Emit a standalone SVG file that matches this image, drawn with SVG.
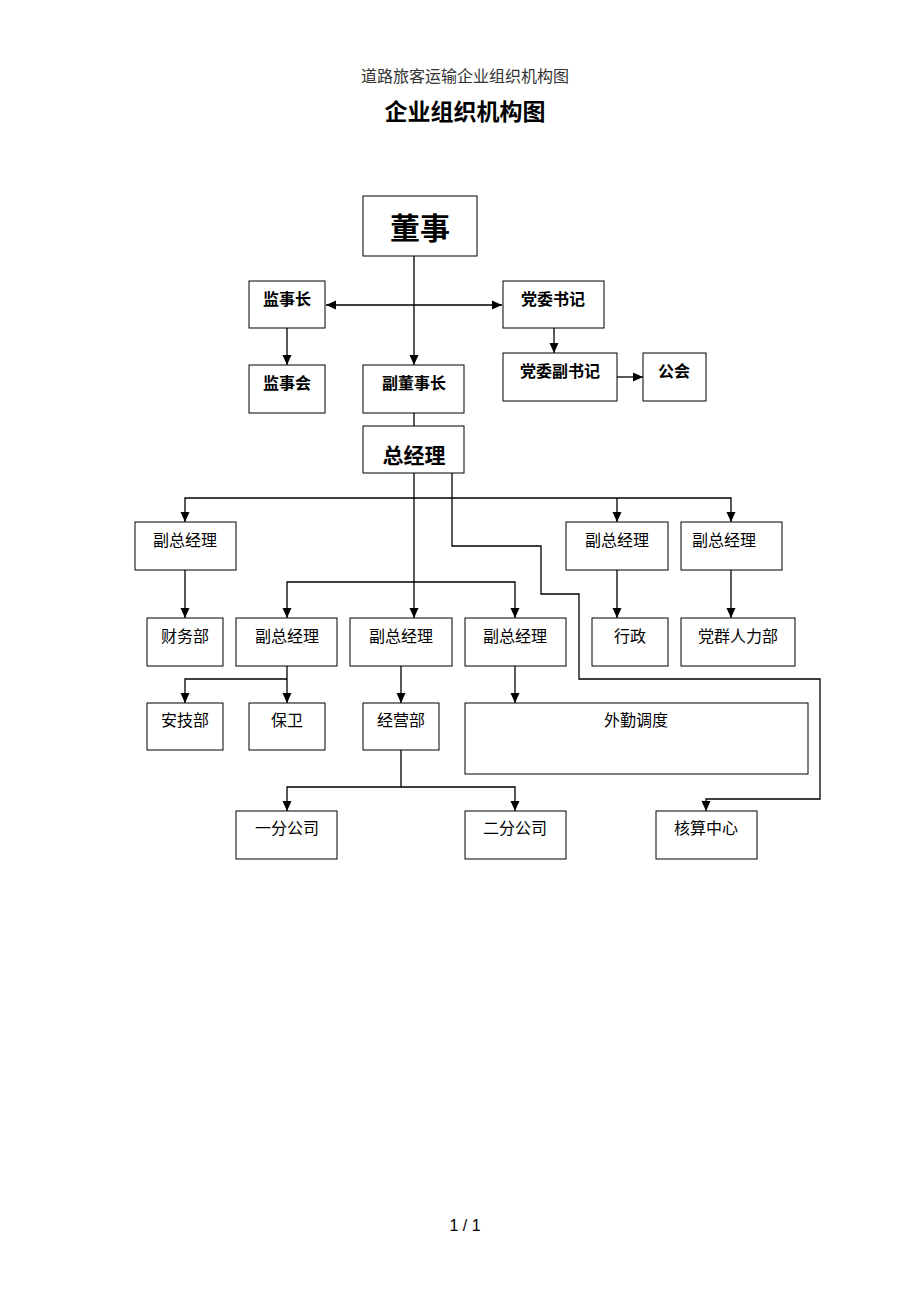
<svg xmlns="http://www.w3.org/2000/svg" width="920" height="1302" viewBox="0 0 920 1302">
<style>
text{font-family:"Noto Sans CJK SC","Liberation Sans",sans-serif;fill:#000;text-anchor:middle}
.box{fill:#fff;stroke:#000;stroke-width:1}
.t{font-size:16px}
.b{font-size:16px;font-weight:bold}
.ln{fill:none;stroke:#000;stroke-width:1.3}
</style>
<defs>
<marker id="ah" markerUnits="userSpaceOnUse" markerWidth="10" markerHeight="10" viewBox="0 0 10 10" refX="10" refY="5" orient="auto-start-reverse">
<path d="M0,0.5 L10,5 L0,9.5 Z" fill="#000"/>
</marker>
</defs>
<rect width="920" height="1302" fill="#fff"/>
<text x="465" y="82" style="font-size:16px;fill:#333">道路旅客运输企业组织机构图</text>
<text x="465" y="120" style="font-size:23px;font-weight:bold">企业组织机构图</text>

<g id="connectors">
<path class="ln" d="M414,256 V365" marker-end="url(#ah)"/>
<path class="ln" d="M326,305 H502" marker-start="url(#ah)" marker-end="url(#ah)"/>
<path class="ln" d="M287,328 V365" marker-end="url(#ah)"/>
<path class="ln" d="M554,328 V353" marker-end="url(#ah)"/>
<path class="ln" d="M617,377 H643" marker-end="url(#ah)"/>
<path class="ln" d="M414,413 V426"/>
<path class="ln" d="M414,473 V618" marker-end="url(#ah)"/>
<path class="ln" d="M185,522 V498 H731 V522" marker-start="url(#ah)" marker-end="url(#ah)"/>
<path class="ln" d="M617,498 V522" marker-end="url(#ah)"/>
<path class="ln" d="M287,618 V582 H515 V618" marker-start="url(#ah)" marker-end="url(#ah)"/>
<path class="ln" d="M452,473 V546 H541 V594 H579 V679 H820 V799 H706 V811" marker-end="url(#ah)"/>
<path class="ln" d="M185,570 V618" marker-end="url(#ah)"/>
<path class="ln" d="M617,570 V618" marker-end="url(#ah)"/>
<path class="ln" d="M731,570 V618" marker-end="url(#ah)"/>
<path class="ln" d="M287,666 V703" marker-end="url(#ah)"/>
<path class="ln" d="M287,679 H185 V703" marker-end="url(#ah)"/>
<path class="ln" d="M401,666 V703" marker-end="url(#ah)"/>
<path class="ln" d="M515,666 V703" marker-end="url(#ah)"/>
<path class="ln" d="M401,750 V787"/>
<path class="ln" d="M287,811 V787 H515 V811" marker-start="url(#ah)" marker-end="url(#ah)"/>
</g>

<g id="n-dongshi"><rect class="box" x="363" y="196" width="114" height="60"/><text x="420" y="239" style="font-size:30px;font-weight:bold">董事</text></g>
<g id="n-jianshizhang"><rect class="box" x="249" y="281" width="76" height="47"/><text class="b" x="287" y="305">监事长</text></g>
<g id="n-dangweishuji"><rect class="box" x="503" y="281" width="101" height="47"/><text class="b" x="553" y="305">党委书记</text></g>
<g id="n-jianshihui"><rect class="box" x="249" y="365" width="76" height="48"/><text class="b" x="287" y="389">监事会</text></g>
<g id="n-fudongshizhang"><rect class="box" x="363" y="365" width="101" height="48"/><text class="b" x="414" y="389">副董事长</text></g>
<g id="n-dangweifushuji"><rect class="box" x="503" y="353" width="114" height="48"/><text class="b" x="560" y="377">党委副书记</text></g>
<g id="n-gonghui"><rect class="box" x="643" y="353" width="63" height="48"/><text class="b" x="674" y="377">公会</text></g>
<g id="n-zongjingli"><rect class="box" x="363" y="426" width="101" height="47"/><text x="414" y="463" style="font-size:21px;font-weight:bold">总经理</text></g>
<g id="n-fzjl-left"><rect class="box" x="135" y="522" width="101" height="48"/><text class="t" x="185" y="546">副总经理</text></g>
<g id="n-fzjl-r1"><rect class="box" x="566" y="522" width="102" height="48"/><text class="t" x="617" y="546">副总经理</text></g>
<g id="n-fzjl-r2"><rect class="box" x="681" y="522" width="101" height="48"/><text class="t" x="724" y="546">副总经理</text></g>
<g id="n-caiwubu"><rect class="box" x="147" y="618" width="76" height="48"/><text class="t" x="185" y="642">财务部</text></g>
<g id="n-fzjl-a"><rect class="box" x="236" y="618" width="101" height="48"/><text class="t" x="287" y="642">副总经理</text></g>
<g id="n-fzjl-b"><rect class="box" x="350" y="618" width="102" height="48"/><text class="t" x="401" y="642">副总经理</text></g>
<g id="n-fzjl-c"><rect class="box" x="465" y="618" width="101" height="48"/><text class="t" x="515" y="642">副总经理</text></g>
<g id="n-xingzheng"><rect class="box" x="592" y="618" width="76" height="48"/><text class="t" x="630" y="642">行政</text></g>
<g id="n-dangqun"><rect class="box" x="681" y="618" width="114" height="48"/><text class="t" x="738" y="642">党群人力部</text></g>
<g id="n-anjibu"><rect class="box" x="147" y="703" width="76" height="47"/><text class="t" x="185" y="726">安技部</text></g>
<g id="n-baowei"><rect class="box" x="249" y="703" width="76" height="47"/><text class="t" x="287" y="726">保卫</text></g>
<g id="n-jingyingbu"><rect class="box" x="363" y="703" width="76" height="47"/><text class="t" x="401" y="726">经营部</text></g>
<g id="n-waiqin"><rect class="box" x="465" y="703" width="343" height="71"/><text class="t" x="636" y="726">外勤调度</text></g>
<g id="n-yifen"><rect class="box" x="236" y="811" width="101" height="48"/><text class="t" x="287" y="834">一分公司</text></g>
<g id="n-erfen"><rect class="box" x="465" y="811" width="101" height="48"/><text class="t" x="515" y="834">二分公司</text></g>
<g id="n-hesuan"><rect class="box" x="656" y="811" width="101" height="48"/><text class="t" x="706" y="834">核算中心</text></g>

<text x="465" y="1231" style="font-size:16px;font-family:'Liberation Sans',sans-serif">1 / 1</text>
</svg>
